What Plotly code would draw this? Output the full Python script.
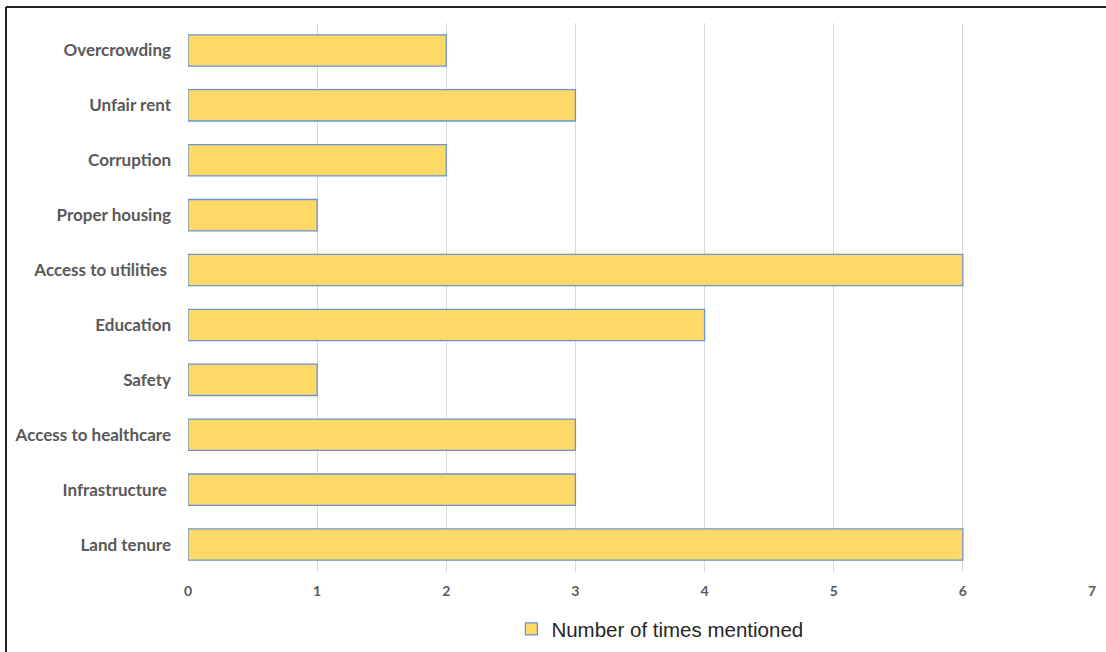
import plotly.graph_objects as go

# Issues raised, listed bottom-to-top as they appear on the axis
categories = [
    "Land tenure",
    "Infrastructure ",
    "Access to healthcare",
    "Safety",
    "Education",
    "Access to utilities ",
    "Proper housing",
    "Corruption",
    "Unfair rent",
    "Overcrowding",
]
mentions = [6, 3, 3, 1, 4, 6, 1, 2, 3, 2]
x_ticks = [0, 1, 2, 3, 4, 5, 6, 7]
series_name = "Number of times mentioned"

W, H = 1106, 652
ML, MR, MT, MB = 188, 14, 23, 80
plot_w = W - ML - MR
plot_h = H - MT - MB

fig = go.Figure()
fig.add_trace(go.Bar(
    y=categories,
    x=mentions,
    orientation="h",
    name=series_name,
    width=0.57,
    marker=dict(color="#FFD966", line=dict(color="#6A93D4", width=1.3)),
    showlegend=True,
))

fig.update_layout(
    width=W,
    height=H,
    margin=dict(l=ML, r=MR, t=MT, b=MB, autoexpand=False),
    paper_bgcolor="white",
    plot_bgcolor="white",
    font=dict(family="Lato, 'Open Sans', sans-serif"),
    xaxis=dict(
        range=[0, 7],
        tickvals=x_ticks,
        showgrid=True,
        gridcolor="#D9D9D9",
        gridwidth=1,
        zeroline=False,
        showline=False,
        automargin=False,
        tickfont=dict(size=14, color="#595959", family="Lato", weight="bold"),
        ticklabelstandoff=9,
        fixedrange=True,
    ),
    yaxis=dict(
        range=[-0.5, 9.5],
        showgrid=False,
        zeroline=False,
        showline=False,
        automargin=False,
        tickfont=dict(size=17, color="#595959", family="Lato", weight="bold"),
        ticklabelstandoff=16,
        fixedrange=True,
    ),
    legend=dict(
        orientation="h",
        x=0.522,
        xanchor="center",
        y=-0.104,
        yanchor="middle",
        font=dict(size=20.5, color="#262626", family="Liberation Sans, Arial"),
        itemwidth=30,
    ),
    showlegend=True,
)

# Outer frame: dark lines along the top and left edges
left_px, top_px = 6, 7
x_left = (left_px - ML) / plot_w
y_top = (H - top_px - MB) / plot_h
y_bottom = (0 - MB) / plot_h - 0.05
x_right = (W - ML) / plot_w + 0.05
fig.add_shape(type="line", xref="paper", yref="paper",
              x0=x_left, x1=x_right, y0=y_top, y1=y_top,
              line=dict(color="#222222", width=2))
fig.add_shape(type="line", xref="paper", yref="paper",
              x0=x_left, x1=x_left, y0=y_bottom, y1=y_top,
              line=dict(color="#222222", width=2))

fig.write_html("out.html", config={"displayModeBar": False})
